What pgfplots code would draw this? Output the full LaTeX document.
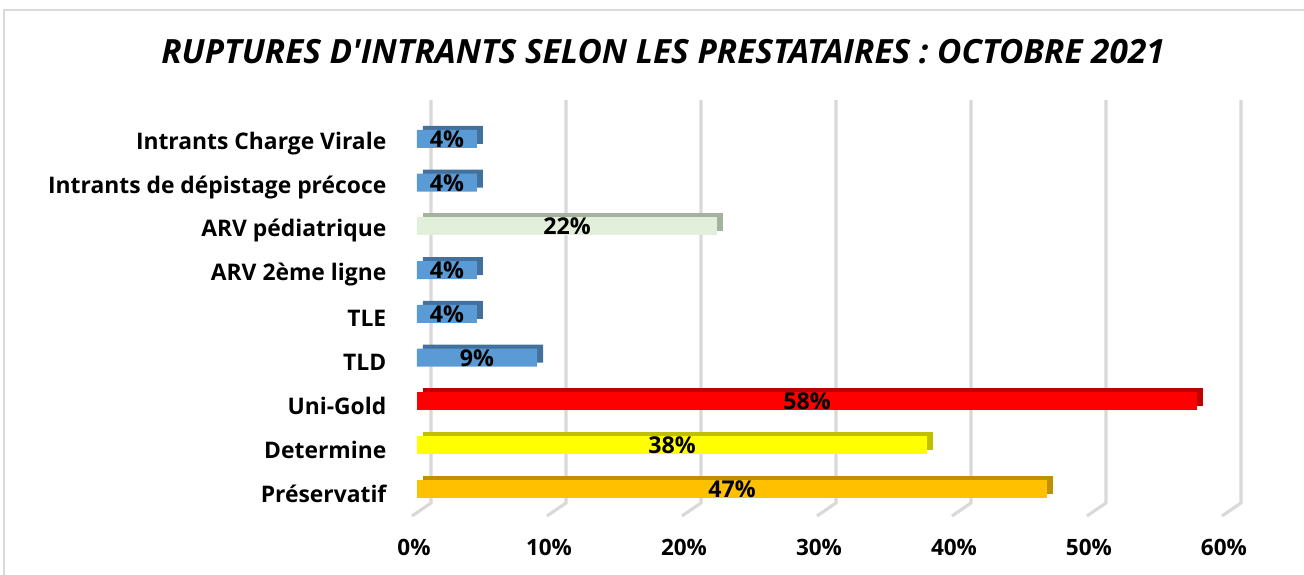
\documentclass[border=0pt]{standalone}
\usepackage{pgfplots}
\pgfplotsset{compat=1.18}
\usepackage{fontspec}
\setmainfont{Open Sans}
\newfontfamily\titlefont{Open Sans}
\definecolor{gridc}{HTML}{D9D9D9}
\definecolor{bluef}{HTML}{5B9BD5}
\definecolor{blued}{HTML}{41719C}
\definecolor{greenf}{HTML}{E2EFDA}
\definecolor{greend}{HTML}{A5B29C}
\definecolor{redf}{HTML}{FF0000}
\definecolor{redd}{HTML}{C00000}
\definecolor{yelf}{HTML}{FFFF00}
\definecolor{yeld}{HTML}{C0C000}
\definecolor{oraf}{HTML}{FFC000}
\definecolor{orad}{HTML}{BF9000}
\begin{document}
\begin{tikzpicture}
\path[use as bounding box] (0,0) rectangle (13.04,5.75);
\draw[gridc, line width=0.8pt] (0.04,0) -- (0.04,5.65) -- (13.04,5.65);
\node[font=\titlefont\fontsize{9.5}{11}\selectfont\bfseries\itshape] at (6.63,5.23) {RUPTURES D'INTRANTS SELON LES PRESTATAIRES : OCTOBRE 2021};
\begin{axis}[
  at={(4.17cm,0.86cm)}, anchor=origin,
  x=0.135cm, y=0.4375cm,
  xmin=0, xmax=62, ymin=-0.617, ymax=8.89,
  clip=false,
  axis line style={draw=none}, tick style={draw=none},
  xtick={0,10,...,60},
  xticklabels={0\%,10\%,20\%,30\%,40\%,50\%,60\%},
  ytick={0,...,8},
  yticklabels={Préservatif,Determine,Uni-Gold,TLD,TLE,ARV 2ème ligne,ARV pédiatrique,Intrants de dépistage précoce,Intrants Charge Virale},
  yticklabel style={font=\fontsize{6.5}{7.5}\selectfont\bfseries, inner sep=0pt, anchor=east, xshift=-0.15cm, yshift=-0.045cm},
  xticklabel style={font=\fontsize{6.4}{7.5}\selectfont\bfseries, inner sep=0pt, anchor=center, yshift=-0.31cm, xshift=-0.03cm},
  xbar, bar width=0.18cm, bar shift=0pt,
  visualization depends on={rawx \as \rawx},
  front/.style={draw=none, fill=#1,
    nodes near coords={\pgfmathprintnumber[fixed,precision=0,assume math mode=true]{\pgfplotspointmeta}\%},
    point meta=x,
    every node near coord/.style={anchor=center, inner sep=0pt, font=\fontsize{6.6}{7.5}\selectfont\bfseries, text=black, xshift={-0.0675cm*\rawx}, yshift=0.0cm}},
  back/.style={draw=none, fill=#1, xshift=0.06cm, yshift=0.04cm},
]
\pgfplotsinvokeforeach{0,10,...,60}{
  \draw[gridc, line width=0.9pt] ([xshift=-0.05cm]axis cs:#1,-0.617) -- ([xshift=0.14cm, yshift=0.13cm]axis cs:#1,-0.617) -- ([xshift=0.14cm]axis cs:#1,8.89);
}
% back faces (depth)
\addplot[back=blued] coordinates {(8.89,3) (4.44,4) (4.44,5) (4.44,7) (4.44,8)};
\addplot[back=greend] coordinates {(22.22,6)};
\addplot[back=redd] coordinates {(57.78,2)};
\addplot[back=yeld] coordinates {(37.78,1)};
\addplot[back=orad] coordinates {(46.67,0)};
% front faces
\addplot[front=bluef] coordinates {(8.89,3) (4.44,4) (4.44,5) (4.44,7) (4.44,8)};
\addplot[front=greenf] coordinates {(22.22,6)};
\addplot[front=redf] coordinates {(57.78,2)};
\addplot[front=yelf] coordinates {(37.78,1)};
\addplot[front=oraf] coordinates {(46.67,0)};
\end{axis}
\end{tikzpicture}
\end{document}
